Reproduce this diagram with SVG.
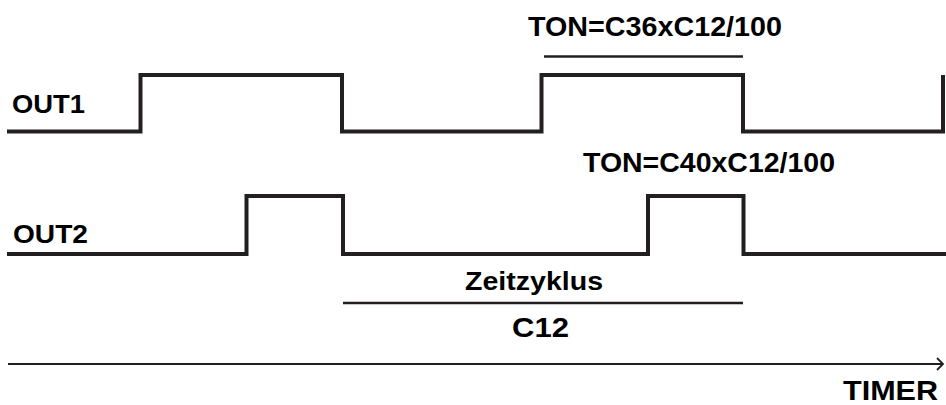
<svg xmlns="http://www.w3.org/2000/svg" width="946" height="405" viewBox="0 0 946 405">
<style>
.w{fill:none;stroke:#231f20;stroke-width:4;stroke-linejoin:miter}
.t{fill:none;stroke:#231f20;stroke-width:2.5}
text{font-family:"Liberation Sans",Arial,sans-serif;font-weight:bold;fill:#000}
</style>
<defs>
<marker id="ar" markerWidth="10" markerHeight="14" refX="8" refY="7" orient="auto" markerUnits="userSpaceOnUse">
<path d="M2,1 L8,7 L2,13" fill="none" stroke="#231f20" stroke-width="1.8"/>
</marker>
</defs>
<g id="connectors">
<path id="out1-wave" class="w" d="M7,131.5 H140.5 V75 H342 V131.5 H541.5 V75 H743 V131.5 H943 V75"/>
<path id="out2-wave" class="w" d="M7,254 H246.5 V196 H343 V254 H648 V196 H743.5 V254 H946"/>
<line id="ton-bar" class="t" x1="544" y1="56.5" x2="743" y2="56.5"/>
<line id="cycle-bar" class="t" x1="343" y1="303" x2="743" y2="303"/>
<line id="timer-axis" x1="8" y1="364" x2="943" y2="364" stroke="#231f20" stroke-width="2" marker-end="url(#ar)"/>
</g>
<g id="out1-label"><text x="12" y="113" font-size="26" textLength="73" lengthAdjust="spacingAndGlyphs">OUT1</text></g>
<g id="out2-label"><text x="13" y="243" font-size="26" textLength="75" lengthAdjust="spacingAndGlyphs">OUT2</text></g>
<g id="ton1-label"><text x="528" y="35.5" font-size="27" textLength="254" lengthAdjust="spacingAndGlyphs">TON=C36xC12/100</text></g>
<g id="ton2-label"><text x="583" y="172" font-size="27" textLength="252" lengthAdjust="spacingAndGlyphs">TON=C40xC12/100</text></g>
<g id="cycle-label"><text x="465" y="290" font-size="25" textLength="138" lengthAdjust="spacingAndGlyphs">Zeitzyklus</text></g>
<g id="c12-label"><text x="512" y="337" font-size="28" textLength="57" lengthAdjust="spacingAndGlyphs">C12</text></g>
<g id="timer-label"><text x="843" y="400" font-size="28" textLength="95" lengthAdjust="spacingAndGlyphs">TIMER</text></g>
</svg>
